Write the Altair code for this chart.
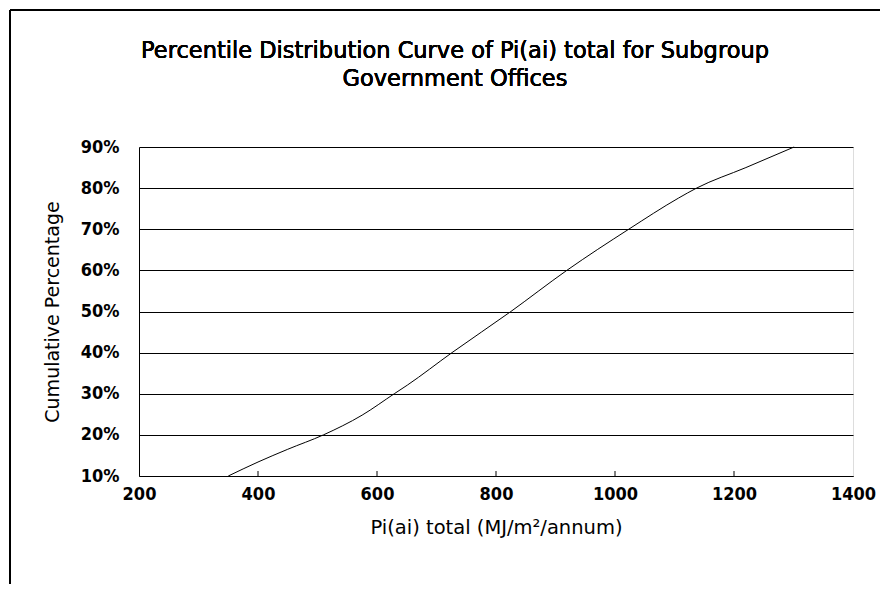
import altair as alt
import pandas as pd

# Data
pi_total = [350, 400, 450, 510, 575, 629, 651, 726, 825, 919, 1023, 1107, 1137, 1220, 1301]
cum_pct = [0.10, 0.134, 0.165, 0.20, 0.248, 0.30, 0.321, 0.40, 0.50, 0.60, 0.70, 0.776, 0.80, 0.85, 0.90]
x_ticks = [200, 400, 600, 800, 1000, 1200, 1400]
y_ticks = [0.1, 0.2, 0.3, 0.4, 0.5, 0.6, 0.7, 0.8, 0.9]
inner_ticks = [400, 600, 800, 1000, 1200]
title_lines = ["Percentile Distribution Curve of Pi(ai) total for Subgroup", "Government Offices"]

df = pd.DataFrame({"x": pi_total, "y": cum_pct})
ticks_df = pd.DataFrame({"x": inner_ticks})

W, H = 714, 329
label_font = "DejaVu Sans Condensed, DejaVu Sans"
text_font = "DejaVu Sans"

xscale = alt.Scale(domain=[200, 1400], nice=False, zero=False)
yscale = alt.Scale(domain=[0.1, 0.9], nice=False, zero=False)

line = alt.Chart(df).mark_line(color="black", strokeWidth=1, interpolate="monotone").encode(
    x=alt.X("x:Q", scale=xscale,
            axis=alt.Axis(values=x_ticks, format="d", grid=False, ticks=False, domainColor="black",
                          labelFlush=False,
                          labelFont=label_font, labelFontWeight="bold", labelFontSize=18,
                          labelColor="black", labelPadding=9,
                          title="Pi(ai) total (MJ/m²/annum)", titleFont=text_font,
                          titleFontWeight="normal", titleFontSize=19.5, titleColor="black",
                          titlePadding=15)),
    y=alt.Y("y:Q", scale=yscale,
            axis=alt.Axis(values=y_ticks, format=".0%", grid=True, gridColor="black",
                          gridOpacity=1, gridWidth=1, ticks=False, domainColor="black",
                          labelFont=label_font, labelFontWeight="bold", labelFontSize=18,
                          labelColor="black", labelPadding=20,
                          title="Cumulative Percentage", titleFont=text_font,
                          titleFontWeight="normal", titleFontSize=19, titleColor="black",
                          titlePadding=18)),
)

tick_marks = alt.Chart(ticks_df).mark_rule(color="black", strokeWidth=1).encode(
    x=alt.X("x:Q", scale=xscale),
    y=alt.value(H),
    y2=alt.value(H - 5),
)

left_border = alt.Chart(ticks_df).mark_rule(color="black", strokeWidth=1.5).encode(
    x=alt.value(-129), y=alt.value(-137), y2=alt.value(H + 110)
)
top_border = alt.Chart(ticks_df).mark_rule(color="black", strokeWidth=1.5).encode(
    x=alt.value(-129), x2=alt.value(W + 30), y=alt.value(-137)
)

title_text = alt.Chart(ticks_df).mark_text(
    font=text_font, fontSize=22.5, fontWeight="normal", color="black", align="center",
    baseline="alphabetic", lineHeight=28,
).encode(
    x=alt.value(316), y=alt.value(-89), text=alt.value(title_lines)
)

chart = alt.layer(line, tick_marks, left_border, top_border, title_text).properties(
    width=W, height=H,
    padding={"left": 131, "top": 139, "right": 27, "bottom": 108},
    autosize=alt.AutoSizeParams(type="none"),
).configure_view(stroke="black", strokeWidth=1).configure(background="white")

chart.save("out.html", embed_options={"renderer": "svg", "actions": False})
